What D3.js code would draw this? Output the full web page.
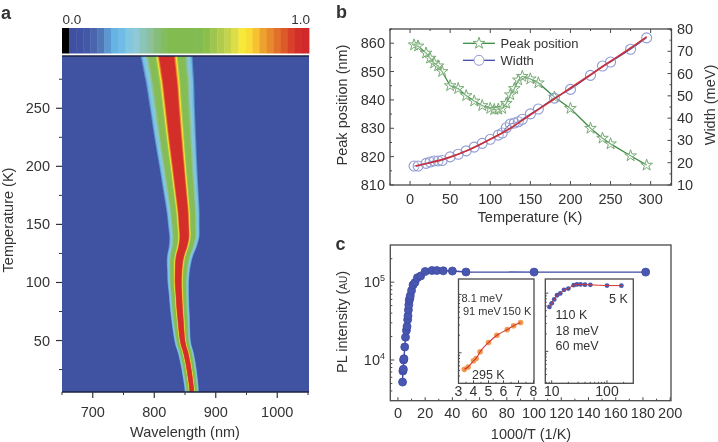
<!DOCTYPE html>
<html><head><meta charset="utf-8">
<script src="https://cdn.jsdelivr.net/npm/d3@7"></script>
<style>
html,body{margin:0;padding:0;background:#fff}
svg{display:block;filter:blur(0.5px)}
text{font-family:"Liberation Sans",Arial,sans-serif;fill:#333}
</style></head><body><svg id="c" width="718" height="442"></svg>
<script>
// ---- data
const colorbarColors=["#000000","#3f4fa2","#4052a4","#4358a6","#4a65ad","#4f78b8","#5b97d0","#67b3e3","#6fbde6","#82c6e0","#8fc8d6","#8bc4b9","#8cc19c","#87bd7b","#84bc60","#82bb4f","#82bb4f","#82bb4f","#82bb4f","#82bb4f","#8cbe4c","#9ec64c","#b1cc4c","#c4d44a","#dddd45","#f6e93a","#f9dc34","#f6c232","#eda22f","#e78a2e","#e2702c","#dc5a2a","#d84029","#d32f2a","#d0282b"];
const heatT=[5,10,20,30,40,45,50,60,70,80,90,100,110,115,120,125,130,135,140,150,160,180,200,225,250,275,295];
const heatCentre=[861,860.5,858,855,851,848,846,844,842.5,841,840,839,839.5,840,841,843,846,848,849,848,847,843,839,834,829.5,825,820];
const heatHalf=[11,11.3,11.8,12.2,12.6,12.8,13,14,15,15.5,16,17,18,19,20,21,22,23,24,25,26,28,30,33,35.5,38.5,41];
const bandFractions=[1.03,0.98,0.9,0.82,0.74,0.45,0.4,0.36,0.32,0.29];
const bandColors=["#5a8fca","#74c0e4","#8ac8d8","#8cc19c","#84bc55","#a8c94c","#f6e93a","#eda22f","#dc5a2a","#d32f2a"];
const temps=[5,10,20,25,30,35,40,50,60,70,80,90,100,105,110,115,120,125,130,135,140,150,160,180,200,225,240,250,275,295];
const peakNm=[859.4,859,856.5,854.7,853,852,850,845,844,841.5,839.6,838,837,836.6,836.7,837,838.8,841.8,844,847,848.3,847.4,846,841,837,830,826.5,824.5,820.3,817];
const widthT=[5,10,20,25,30,35,40,50,60,70,80,90,100,110,115,120,125,130,135,140,150,160,180,200,225,240,250,275,295];
const widthMeV=[18.5,18.5,19.7,20.3,20.8,20.8,21,22.6,23.8,25.3,27,28.7,30.5,32.4,33.3,35.7,37.4,37.8,38.4,39.5,41.9,44.1,49,52.9,59.2,63.4,65.2,70.9,76];
const fitT=[7,25,50,75,100,125,150,175,200,225,250,275,295];
const fitMeV=[18.6,20,22.5,26,30.5,35.5,41.5,47.5,53.5,59.5,65.5,71.5,76.5];
const invT=[3.39,3.64,4,4.17,4.44,5,5.56,6.25,6.67,7.14,7.41,7.69,8,8.33,8.7,9.09,10,11.1,12.5,14.3,16.7,20,25,28.6,33.3,40,50,100,182];
const intensity=[5200,7200,7600,10000,10400,14700,19600,24000,27000,33000,37000,44000,51000,58000,62000,67000,78000,92000,99000,114000,120000,137000,141000,141000,140000,139000,135000,134500,134500];
const insetAx=[3.39,3.64,4,4.17,4.44,5,5.56,6.25,6.67,7.14];
const insetAy=[5200,5700,7300,8000,10400,15000,20000,25000,29000,33000];
const insetBx=[9.09,10,11.1,12.5,14.3,16.7,20,25,28.6,33.3,40,50,100,182];
const insetBy=[58000,67000,78000,92000,99000,114000,120000,137000,141000,141000,140000,139000,135000,134500];
const xTicksA=[700,800,900,1000], yTicksA=[50,100,150,200,250];
const bLeftTicks=[810,820,830,840,850,860], bRightTicks=[10,20,30,40,50,60,70,80], bXTicks=[0,50,100,150,200,250,300];
const cXTicks=[0,20,40,60,80,100,120,140,160,180,200];

// ---- helpers
const svg=d3.select("#c");
const boxc="#4a4a4a";
const defs=svg.append("defs");
defs.append("filter").attr("id","soft").attr("x","-10%").attr("width","120%").append("feGaussianBlur").attr("stdDeviation",0.6);
function txt(x,y,s,size,anchor,weight,rot){const t=svg.append("text").attr("x",x).attr("y",y).text(s).attr("font-size",size).attr("text-anchor",anchor||"middle");
 if(weight)t.attr("font-weight",weight); if(rot)t.attr("transform",`rotate(${rot} ${x} ${y})`); return t;}
function ticks(g,vals,fn,len,col,w){g.selectAll(null).data(vals).join("line").each(function(d){const [x1,y1,x2,y2]=fn(d,len);d3.select(this).attr("x1",x1).attr("y1",y1).attr("x2",x2).attr("y2",y2)}).attr("stroke",col||boxc).attr("stroke-width",w||1);}
function range(a,b,s){return d3.range(a,b+s/2,s);}
const FS=14.5;

// ---- panel a
const ax=d3.scaleLinear([650,1050],[62,308]), ay=d3.scaleLinear([5.7,295],[392,56]);
svg.append("clipPath").attr("id","pa").append("rect").attr("x",62).attr("y",56).attr("width",247).attr("height",336);
const ga=svg.append("g");
ga.append("rect").attr("x",62).attr("y",56).attr("width",247).attr("height",336).attr("fill","#4052a2");
const gh=ga.append("g").attr("clip-path","url(#pa)").append("g").attr("filter","url(#soft)");
const pts=heatT.map((t,i)=>({t,c:heatCentre[i],h:heatHalf[i]}));
const last=pts[pts.length-1], first=pts[0];
bandFractions.forEach((f,i)=>{
 const area=d3.area().curve(d3.curveCatmullRom).y(d=>ay(d.t)).x0(d=>ax(d.c-d.h*f)).x1(d=>ax(d.c+d.h*f));
 gh.append("path").attr("d",area(pts)).attr("fill",bandColors[i]);
 gh.append("rect").attr("x",ax(last.c-last.h*f)).attr("y",50).attr("width",ax(last.c+last.h*f)-ax(last.c-last.h*f)).attr("height",ay(295)-50+1).attr("fill",bandColors[i]);
 gh.append("rect").attr("x",ax(first.c-first.h*f)).attr("y",ay(5)-1).attr("width",ax(first.c+first.h*f)-ax(first.c-first.h*f)).attr("height",10).attr("fill",bandColors[i]);
});
const cb=d3.scaleBand(d3.range(colorbarColors.length),[62,309]);
svg.append("g").selectAll("rect").data(colorbarColors).join("rect").attr("x",(d,i)=>cb(i)).attr("y",28).attr("width",cb.bandwidth()+0.4).attr("height",25.5).attr("fill",d=>d);
txt(62.5,24,"0.0",13.5,"start"); txt(310,24,"1.0",13.5,"end");
const ta=svg.append("g");
ta.append("line").attr("x1",62).attr("x2",309).attr("y1",56).attr("y2",56).attr("stroke","#1d2340").attr("stroke-width",1.5);
ta.append("line").attr("x1",62).attr("x2",309).attr("y1",392).attr("y2",392).attr("stroke","#1d2340").attr("stroke-width",1.5);
ticks(ta,xTicksA,(d,l)=>[ax(d),392,ax(d),392+l],6,"#333",1.2);
ticks(ta,[650,750,850,950,1050],(d,l)=>[ax(d),392,ax(d),392+l],3,"#333",1);
ticks(ta,yTicksA,(d,l)=>[62,ay(d),62-l,ay(d)],6,"#333",1.2);
ticks(ta,[25,75,125,175,225,275],(d,l)=>[62,ay(d),62-l,ay(d)],3,"#333",1);
xTicksA.forEach(d=>txt(ax(d),417,d,FS));
yTicksA.forEach(d=>txt(50,ay(d)+5,d,FS,"end"));
txt(185,437,"Wavelength (nm)",FS);
txt(13,220,"Temperature (K)",FS,"middle",null,-90);
txt(1,18.5,"a",18,"start","bold");

// ---- panel b
const bx=d3.scaleLinear([-25,326],[390,671.5]), byL=d3.scaleLinear([810,865],[185,29]), byR=d3.scaleLinear([10,80],[185,29]);
const gb=svg.append("g");
gb.append("rect").attr("x",390).attr("y",29).attr("width",281.5).attr("height",156).attr("fill","none").attr("stroke",boxc).attr("stroke-width",1.3);
ticks(gb,bXTicks,(d,l)=>[bx(d),185,bx(d),185-l],4); ticks(gb,bXTicks,(d,l)=>[bx(d),29,bx(d),29+l],4);
ticks(gb,range(-25,325,50),(d,l)=>[bx(d),185,bx(d),185-l],2); ticks(gb,range(-25,325,50),(d,l)=>[bx(d),29,bx(d),29+l],2);
ticks(gb,bLeftTicks,(d,l)=>[390,byL(d),390+l,byL(d)],4); ticks(gb,range(815,865,10),(d,l)=>[390,byL(d),390+l,byL(d)],2);
ticks(gb,bRightTicks,(d,l)=>[671.5,byR(d),671.5-l,byR(d)],4); ticks(gb,range(15,75,10),(d,l)=>[671.5,byR(d),671.5-l,byR(d)],2);
bXTicks.forEach(d=>txt(bx(d),204,d,FS));
bLeftTicks.forEach(d=>txt(385,byL(d)+5,d,FS,"end"));
bRightTicks.forEach(d=>txt(677,byR(d)+5,d,FS,"start"));
txt(530,222,"Temperature (K)",FS);
txt(347,105,"Peak position (nm)",FS,"middle",null,-90);
txt(715,105,"Width (meV)",FS,"middle",null,-90);
txt(336,17.5,"b",18,"start","bold");
const green="#3f8a45", starc="#74ab70", blue="#3e4ba6", circ="#8f9ad2";
const star=d3.symbol().type(d3.symbolStar).size(42);
const lp=d3.line().curve(d3.curveLinear);
gb.append("path").attr("d",lp(temps.map((t,i)=>[bx(t),byL(peakNm[i])]))).attr("fill","none").attr("stroke",green).attr("stroke-width",1.3);
gb.append("g").selectAll("path").data(temps).join("path").attr("d",star).attr("transform",(t,i)=>`translate(${bx(t)},${byL(peakNm[i])})`).attr("fill","rgba(255,255,255,.35)").attr("stroke",starc).attr("stroke-width",1);
gb.append("path").attr("d",lp(widthT.map((t,i)=>[bx(t),byR(widthMeV[i])]))).attr("fill","none").attr("stroke",blue).attr("stroke-width",1.1);
gb.append("g").selectAll("circle").data(widthT).join("circle").attr("cx",t=>bx(t)).attr("cy",(t,i)=>byR(widthMeV[i])).attr("r",5).attr("fill","rgba(255,255,255,.15)").attr("stroke",circ).attr("stroke-width",1.1);
gb.append("path").attr("d",d3.line().curve(d3.curveMonotoneX)(fitT.map((t,i)=>[bx(t),byR(fitMeV[i])]))).attr("fill","none").attr("stroke","#c9303a").attr("stroke-width",1.7);
gb.append("line").attr("x1",463).attr("x2",495).attr("y1",43.3).attr("y2",43.3).attr("stroke",green).attr("stroke-width",1.3);
gb.append("path").attr("d",star).attr("transform","translate(479,43.3)").attr("fill","#fff").attr("stroke",starc);
gb.append("line").attr("x1",463).attr("x2",495).attr("y1",60.3).attr("y2",60.3).attr("stroke",blue).attr("stroke-width",1.3);
gb.append("circle").attr("cx",479).attr("cy",60.3).attr("r",5).attr("fill","#fff").attr("stroke",circ);
txt(500.5,48,"Peak position",13,"start"); txt(500.5,65,"Width",13,"start");

// ---- panel c
const cx=d3.scaleLinear([-5.6,200.6],[390.3,671]), cy=d3.scaleLog([3000,300000],[400.7,245]);
const gc=svg.append("g");
gc.append("rect").attr("x",390.3).attr("y",245).attr("width",280.7).attr("height",155.7).attr("fill","none").attr("stroke",boxc).attr("stroke-width",1.3);
ticks(gc,cXTicks,(d,l)=>[cx(d),400.7,cx(d),400.7-l],3.5); ticks(gc,range(10,190,20),(d,l)=>[cx(d),400.7,cx(d),400.7-l],2);
const logT=[4000,5000,6000,7000,8000,9000,20000,30000,40000,50000,60000,70000,80000,90000,200000];
ticks(gc,[10000,100000],(d,l)=>[390.3,cy(d),390.3+l,cy(d)],4); ticks(gc,logT,(d,l)=>[390.3,cy(d),390.3+l,cy(d)],2);
cXTicks.forEach(d=>txt(cx(d),418,d,FS));
function pow(x,y,exp){const t=svg.append("text").attr("x",x).attr("y",y).attr("text-anchor","end").attr("font-size",FS);t.append("tspan").text("10");t.append("tspan").text(exp).attr("font-size",9).attr("dy",-6);}
pow(385,287,"5"); pow(385,365,"4");
txt(531,438.5,"1000/T (1/K)",FS);
const pl=txt(347,322,"PL intensity (",FS,"middle",null,-90);
pl.append("tspan").text("AU").attr("font-size",10); pl.append("tspan").text(")");
txt(335.5,250,"c",18,"start","bold");
const mainBlue="#3d4aa3";
gc.append("path").attr("d",lp(invT.map((t,i)=>[cx(t),cy(intensity[i])]))).attr("fill","none").attr("stroke",mainBlue).attr("stroke-width",1.4);
gc.append("g").selectAll("circle").data(invT).join("circle").attr("cx",t=>cx(t)).attr("cy",(t,i)=>cy(intensity[i])).attr("r",4).attr("fill","#4a57b0").attr("stroke","#3d4aa3").attr("stroke-width",.8);

// insets
const ia=svg.append("g"), ib=svg.append("g");
const iax=d3.scaleLinear([3,8],[458.5,533.5]), iay=d3.scaleLog([3000,184000],[383.3,279]);
const ibx=d3.scaleLog([7.66,299],[545.3,633.3]), iby=d3.scaleLog([2830,175000],[383.3,279]);
ia.append("rect").attr("x",458.5).attr("y",279).attr("width",75.5).attr("height",104.3).attr("fill","#fff").attr("stroke",boxc).attr("stroke-width",1.3);
ib.append("rect").attr("x",545.3).attr("y",279).attr("width",88).attr("height",104.3).attr("fill","#fff").attr("stroke",boxc).attr("stroke-width",1.3);
ticks(ia,[3,4,5,6,7,8],(d,l)=>[iax(d),383.3,iax(d),383.3-l],3);
ticks(ia,[3.5,4.5,5.5,6.5,7.5],(d,l)=>[iax(d),383.3,iax(d),383.3-l],1.5);
ticks(ia,[10000,100000],(d,l)=>[458.5,iay(d),458.5+l,iay(d)],3);
ticks(ia,[4000,5000,6000,7000,8000,9000,20000,30000,40000,50000,60000,70000,80000,90000],(d,l)=>[458.5,iay(d),458.5+l,iay(d)],1.5);
ticks(ib,[10,100],(d,l)=>[ibx(d),383.3,ibx(d),383.3-l],3);
ticks(ib,[8,9,20,30,40,50,60,70,80,90,200],(d,l)=>[ibx(d),383.3,ibx(d),383.3-l],1.5);
ticks(ib,[10000,100000],(d,l)=>[545.3,iby(d),545.3+l,iby(d)],3);
ticks(ib,[4000,5000,6000,7000,8000,9000,20000,30000,40000,50000,60000,70000,80000,90000],(d,l)=>[545.3,iby(d),545.3+l,iby(d)],1.5);
ia.append("g").selectAll("circle").data(insetAx).join("circle").attr("cx",d=>iax(d)).attr("cy",(d,i)=>iay(insetAy[i])).attr("r",2.8).attr("fill","#f09a50");
ia.append("path").attr("d",d3.line().curve(d3.curveMonotoneX)(insetAx.map((d,i)=>[iax(d),iay(insetAy[i])]))).attr("fill","none").attr("stroke","#d2352f").attr("stroke-width",1.1);
ib.append("g").selectAll("circle").data(insetBx).join("circle").attr("cx",d=>ibx(d)).attr("cy",(d,i)=>iby(insetBy[i])).attr("r",2.4).attr("fill","#4a57b0");
ib.append("path").attr("d",d3.line().curve(d3.curveMonotoneX)(insetBx.map((d,i)=>[ibx(d),iby(insetBy[i])]))).attr("fill","none").attr("stroke","#d2352f").attr("stroke-width",1);
[3,4,5,6,7,8].forEach(d=>txt(iax(d),396,d,14));
[10,100].forEach(d=>txt(ibx(d),396,d,14));
txt(461.5,301.5,"8.1 meV",11,"start"); txt(463,314.5,"91 meV",11,"start"); txt(502.5,314.5,"150 K",11,"start"); txt(472,379,"295 K",12.5,"start");
txt(555.5,319,"110 K",12.5,"start"); txt(555.5,335,"18 meV",12.5,"start"); txt(555.5,350,"60 meV",12.5,"start"); txt(609,302.5,"5 K",12.5,"start");
</script></body></html>
